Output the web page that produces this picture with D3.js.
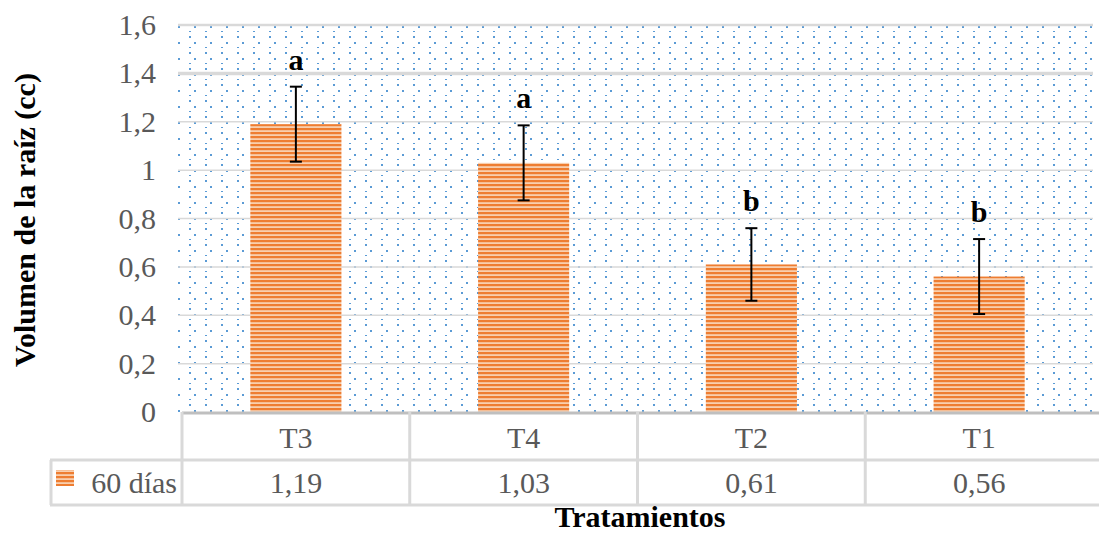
<!doctype html>
<html>
<head>
  <script src="https://cdnjs.cloudflare.com/ajax/libs/d3/7.8.5/d3.min.js"></script>
  <style>
    body { margin: 0; background: #fff; }
    svg text { font-family: "Liberation Serif", "Times New Roman", serif; }
  </style>
</head>
<body>
<div id="viz"><svg width="1099" height="533"></svg></div>
<script>
// data
var categories = ["T3", "T4", "T2", "T1"];
var values = [1.19, 1.03, 0.61, 0.56];
var errors = [0.155, 0.155, 0.15, 0.155];
var letters = ["a", "a", "b", "b"];
var valueLabels = ["1,19", "1,03", "0,61", "0,56"];
var yTicks = [0, 0.2, 0.4, 0.6, 0.8, 1, 1.2, 1.4, 1.6];
var seriesName = "60 días";

var serif = "Liberation Serif, Times New Roman, serif";
var svg = d3.select("svg");
var plotLeft = 178, plotRight = 1093, plotTop = 25, plotBottom = 412;
var bandLeft = 182;

var x = d3.scaleBand().domain(categories).range([bandLeft, plotRight]).paddingInner(0.6).paddingOuter(0.3);
var xCell = d3.scaleBand().domain(categories).range([bandLeft, plotRight]);
var y = d3.scaleLinear().domain([0, 1.6]).range([plotBottom, plotTop]);

var defs = svg.append("defs");
// dotted background
var dots = defs.append("pattern").attr("id", "dots").attr("patternUnits", "userSpaceOnUse")
  .attr("width", 16).attr("height", 16);
[[2, 10], [13, 4], [13, 15]].forEach(function (p) {
  dots.append("rect").attr("x", p[0]).attr("y", p[1] % 16).attr("width", 2).attr("height", 2)
    .attr("fill", "#5b9bd5");
});

// striped bars
var stripes = defs.append("pattern").attr("id", "stripes").attr("patternUnits", "userSpaceOnUse")
  .attr("width", 8).attr("height", 4);
stripes.append("rect").attr("width", 8).attr("height", 4).attr("fill", "#f8cfae");
stripes.append("rect").attr("width", 8).attr("height", 2.2).attr("fill", "#ee7d31");

svg.append("rect").attr("x", plotLeft).attr("y", plotTop)
  .attr("width", plotRight - plotLeft).attr("height", plotBottom - plotTop)
  .attr("fill", "url(#dots)");

// gridlines
svg.append("g").selectAll("line").data(yTicks.slice(1)).enter().append("line")
  .attr("x1", plotLeft).attr("x2", plotRight)
  .attr("y1", d => y(d)).attr("y2", d => y(d))
  .attr("stroke", "#d9d9d9")
  .attr("stroke-width", d => d === 1.4 ? 3.5 : (d === 1.6 ? 2.5 : 1.5));

// y axis
var yAxis = d3.axisLeft(y).tickValues(yTicks).tickSize(0).tickPadding(22)
  .tickFormat(d => String(d).replace(".", ","));
var yG = svg.append("g").attr("transform", "translate(" + plotLeft + ",0)").call(yAxis)
  .attr("font-family", serif);
yG.select(".domain").remove();
yG.selectAll("text").attr("font-size", 30).attr("fill", "#595959");

// bars
svg.append("g").selectAll("rect").data(categories).enter().append("rect")
  .attr("x", d => x(d)).attr("width", x.bandwidth())
  .attr("y", (d, i) => y(values[i])).attr("height", (d, i) => y(0) - y(values[i]))
  .attr("fill", "url(#stripes)");

// error bars
var eb = svg.append("g").selectAll("g").data(categories).enter().append("g")
  .attr("stroke", "#000").attr("stroke-width", 2);
var cx = d => x(d) + x.bandwidth() / 2;
eb.append("line").attr("x1", cx).attr("x2", cx)
  .attr("y1", (d, i) => y(values[i] - errors[i])).attr("y2", (d, i) => y(values[i] + errors[i]));
eb.append("line").attr("x1", d => cx(d) - 6).attr("x2", d => cx(d) + 6)
  .attr("y1", (d, i) => y(values[i] + errors[i])).attr("y2", (d, i) => y(values[i] + errors[i]));
eb.append("line").attr("x1", d => cx(d) - 6).attr("x2", d => cx(d) + 6)
  .attr("y1", (d, i) => y(values[i] - errors[i])).attr("y2", (d, i) => y(values[i] - errors[i]));

// significance letters
svg.append("g").attr("font-family", serif).selectAll("text").data(categories).enter().append("text")
  .attr("x", cx)
  .attr("y", (d, i) => y(values[i] + errors[i]) - 17)
  .attr("text-anchor", "middle").attr("font-size", 30).attr("font-weight", "bold")
  .text((d, i) => letters[i]);

// data table
var row1 = plotBottom, row2 = 460, row3 = 505;
var tbl = svg.append("g").attr("stroke", "#d9d9d9").attr("stroke-width", 3);
tbl.append("line").attr("x1", bandLeft).attr("x2", 1099).attr("y1", row1 + 1).attr("y2", row1 + 1)
  .attr("stroke", "#bfbfbf");
tbl.append("line").attr("x1", 50).attr("x2", 1099).attr("y1", row2).attr("y2", row2);
tbl.append("line").attr("x1", 50).attr("x2", 1099).attr("y1", row3).attr("y2", row3);
tbl.append("line").attr("x1", 51).attr("x2", 51).attr("y1", row2).attr("y2", row3);
tbl.selectAll("line.v").data(categories).enter().append("line")
  .attr("x1", d => xCell(d)).attr("x2", d => xCell(d)).attr("y1", row1).attr("y2", row3);

var tt = svg.append("g").attr("font-family", serif).attr("font-size", 30).attr("fill", "#595959");
tt.selectAll("text.cat").data(categories).enter().append("text")
  .attr("x", d => xCell(d) + xCell.bandwidth() / 2).attr("y", 448)
  .attr("text-anchor", "middle").text(d => d);
tt.selectAll("text.val").data(categories).enter().append("text")
  .attr("x", d => xCell(d) + xCell.bandwidth() / 2).attr("y", 493)
  .attr("text-anchor", "middle").text((d, i) => valueLabels[i]);

svg.append("rect").attr("x", 56).attr("y", 470).attr("width", 18).attr("height", 16).attr("fill", "url(#stripes)");
tt.append("text").attr("x", 177).attr("y", 493).attr("text-anchor", "end").text(seriesName);

// axis titles
var titles = svg.append("g").attr("font-family", serif).attr("font-size", 30).attr("font-weight", "bold");
titles.append("text").attr("transform", "translate(35,220) rotate(-90)")
  .attr("text-anchor", "middle").text("Volumen de la raíz (cc)");
titles.append("text").attr("x", 640).attr("y", 527).attr("text-anchor", "middle").text("Tratamientos");
</script>
</body>
</html>
